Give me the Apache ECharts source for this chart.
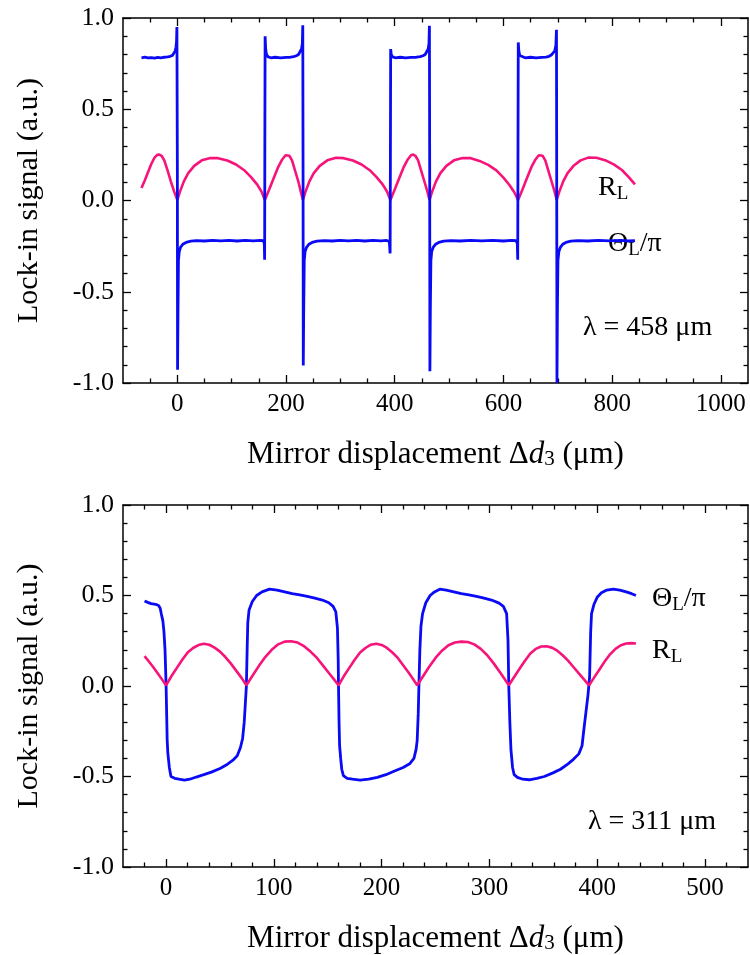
<!DOCTYPE html>
<html><head><meta charset="utf-8">
<script src="https://cdn.jsdelivr.net/npm/echarts@6/dist/echarts.min.js"></script>
<style>html,body{margin:0;padding:0;background:#fff}#c{width:750px;height:955px}</style>
</head><body><div id="c"></div>
<script>
// ---------- data ----------
// Top panel (lambda = 458 um)
var topXMajor = [0, 200, 400, 600, 800, 1000];
var topXMinor = [-50, 50, 100, 150, 250, 300, 350, 450, 500, 550, 650, 700, 750, 850, 900, 950];
var topR = [
[-66,0.068],[-60,0.11],[-54,0.155],[-48,0.2],[-42,0.235],[-37,0.25],[-33,0.252],[-29,0.245],[-24,0.22],[-18,0.165],[-12,0.105],[-6,0.05],[0,0.003],
[5,0.05],[12,0.105],[20,0.15],[31,0.19],[45,0.22],[61,0.233],[75,0.232],[92,0.219],[108,0.197],[123,0.166],[136,0.127],[147,0.087],[155,0.048],[161,0.003],
[169,0.06],[177,0.12],[185,0.18],[193,0.225],[199,0.248],[202,0.252],[206,0.245],[211,0.22],[217,0.16],[223,0.1],[227,0.05],[231,0.003],
[236,0.05],[243,0.105],[251,0.15],[262,0.19],[276,0.22],[292,0.234],[306,0.232],[323,0.219],[339,0.197],[354,0.166],[367,0.127],[378,0.087],[386,0.048],[392,0.003],
[400,0.06],[408,0.12],[416,0.18],[424,0.225],[430,0.248],[434,0.252],[438,0.245],[443,0.22],[449,0.16],[455,0.1],[460,0.05],[464,0.003],
[469,0.05],[476,0.105],[484,0.15],[495,0.19],[509,0.22],[525,0.233],[540,0.232],[556,0.217],[572,0.195],[587,0.165],[600,0.125],[611,0.085],[620,0.045],[627,0.003],
[635,0.06],[643,0.12],[651,0.18],[659,0.225],[665,0.248],[668,0.252],[672,0.245],[677,0.22],[683,0.16],[689,0.1],[694,0.05],[698,0.003],
[703,0.05],[710,0.105],[718,0.15],[729,0.19],[742,0.22],[756,0.235],[771,0.234],[787,0.221],[803,0.198],[818,0.167],[831,0.127],[842,0.088]
];
var topTheta = [
[-66,0.782],[-60,0.785],[-54,0.781],[-48,0.783],[-42,0.780],[-36,0.784],[-30,0.782],[-24,0.785],[-18,0.787],[-13,0.79],[-9,0.795],[-6,0.805],[-4,0.82],[-2.5,0.84],[-1.5,0.87],[-0.8,0.95],
[0,0.2],[0.4,-0.927],[1.2,-0.6],[2,-0.33],[3.5,-0.28],[6,-0.255],[10,-0.24],[16,-0.23],[25,-0.223],[35,-0.22],[50,-0.222],[65,-0.218],[80,-0.221],[95,-0.219],[110,-0.222],[125,-0.218],[140,-0.221],[152,-0.219],[158,-0.22],[160,-0.235],[160.6,-0.325],[161,0.3],[161.5,0.90],[162.5,0.83],[164,0.8],[167,0.787],[172,0.782],[180,0.785],[190,0.781],[200,0.784],[208,0.785],[214,0.788],[219,0.793],[223,0.80],[226,0.81],[228.5,0.83],[230,0.86],[230.8,0.96],
[231.3,0.2],[231.7,-0.904],[232.5,-0.6],[233.5,-0.33],[235,-0.28],[238,-0.255],[242,-0.24],[248,-0.23],[257,-0.223],[270,-0.22],[285,-0.222],[300,-0.218],[315,-0.221],[330,-0.219],[345,-0.222],[360,-0.218],[375,-0.221],[385,-0.219],[390,-0.225],[391.5,-0.29],[392,0.2],[392.5,0.83],[393.5,0.8],[396,0.787],[401,0.782],[410,0.785],[420,0.781],[430,0.784],[440,0.785],[447,0.788],[452,0.793],[456,0.80],[459,0.81],[461.5,0.83],[463,0.86],[463.8,0.958],
[464.3,0.2],[464.7,-0.936],[465.5,-0.6],[466.5,-0.33],[468,-0.28],[471,-0.255],[475,-0.24],[481,-0.23],[490,-0.223],[503,-0.22],[520,-0.222],[540,-0.218],[560,-0.221],[580,-0.219],[600,-0.222],[615,-0.219],[623,-0.22],[625.5,-0.235],[626.3,-0.325],[626.8,0.3],[627.3,0.866],[628.3,0.82],[630,0.795],[633,0.785],[640,0.782],[650,0.785],[660,0.781],[670,0.784],[678,0.786],[684,0.79],[688,0.797],[691.5,0.807],[694.5,0.82],[696.5,0.85],[697.6,0.936],
[698,0.2],[698.5,-1.0],[699.3,-0.6],[700.3,-0.33],[702,-0.28],[705,-0.255],[709,-0.24],[715,-0.23],[724,-0.223],[737,-0.22],[755,-0.222],[775,-0.218],[795,-0.221],[815,-0.219],[830,-0.222],[842,-0.22]
];
// Bottom panel (lambda = 311 um)
var botXMajor = [0, 100, 200, 300, 400, 500];
var botXMinor = [-20, 20, 40, 60, 80, 120, 140, 160, 180, 220, 240, 260, 280, 320, 340, 360, 380, 420, 440, 460, 480, 520];
var botR = [
[-20,0.165],[-16,0.135],[-12,0.105],[-8,0.072],[-4,0.038],[0,0.004],
[5,0.055],[10,0.1],[15,0.145],[20,0.185],[25,0.21],[30,0.226],[35,0.233],[40,0.228],[45,0.212],[50,0.19],[55,0.16],[60,0.125],[65,0.085],[70,0.045],[74.5,0.004],
[80,0.055],[86,0.11],[92,0.16],[98,0.2],[104,0.23],[110,0.245],[116,0.247],[122,0.24],[128,0.22],[134,0.19],[140,0.155],[146,0.11],[152,0.065],[156,0.035],[160,0.004],
[165,0.055],[170,0.1],[175,0.145],[180,0.185],[185,0.21],[190,0.228],[195,0.233],[200,0.227],[205,0.21],[210,0.185],[215,0.155],[220,0.115],[225,0.075],[229,0.04],[233,0.004],
[238,0.05],[244,0.105],[250,0.155],[256,0.195],[262,0.225],[268,0.24],[274,0.245],[280,0.243],[286,0.23],[292,0.205],[298,0.17],[304,0.125],[310,0.075],[314,0.04],[318,0.004],
[323,0.05],[328,0.095],[333,0.14],[338,0.18],[343,0.205],[348,0.218],[353,0.22],[358,0.212],[363,0.195],[368,0.17],[373,0.14],[378,0.105],[383,0.07],[388,0.035],[392.5,0.004],
[397,0.045],[402,0.09],[407,0.135],[412,0.175],[417,0.205],[422,0.225],[427,0.235],[432,0.237],[436,0.235]
];
var botTheta = [
[-20,0.47],[-17,0.462],[-14,0.455],[-11,0.452],[-9,0.45],[-7,0.445],[-5.5,0.43],[-4.5,0.40],[-3,0.36],[-2,0.30],[-1,0.2],[0,0.0],[0.5,-0.15],[1,-0.3],[1.6,-0.37],[3,-0.45],[4.5,-0.5],[8,-0.51],[12,-0.515],[17,-0.52],[22,-0.515],[28,-0.503],[35,-0.49],[42,-0.476],[50,-0.456],[57,-0.432],[62,-0.41],[66,-0.385],[69,-0.34],[71,-0.29],[72.5,-0.2],[73.5,-0.1],[74.5,0.0],[75.2,0.2],[75.8,0.35],[77,0.42],[80,0.467],[84,0.5],[89,0.52],[96,0.535],[103,0.53],[110,0.52],[117,0.51],[124,0.503],[131,0.495],[138,0.485],[145,0.475],[151,0.46],[155,0.44],[157.5,0.41],[159,0.32],[159.7,0.15],[160,0.0],[160.5,-0.2],[161,-0.33],[162,-0.4],[163,-0.46],[164.5,-0.495],[168,-0.51],[173,-0.515],[180,-0.52],[188,-0.515],[196,-0.505],[204,-0.49],[212,-0.47],[220,-0.45],[226,-0.43],[230,-0.4],[232,-0.35],[233,-0.3],[234,-0.15],[234.6,0.0],[235.5,0.2],[236.5,0.33],[238,0.4],[241,0.46],[245,0.5],[249,0.52],[254,0.535],[260,0.53],[267,0.52],[274,0.51],[281,0.503],[288,0.495],[295,0.485],[302,0.475],[309,0.458],[313,0.44],[316,0.4],[317.3,0.25],[318,0.0],[319,-0.2],[320,-0.35],[321.5,-0.45],[323,-0.49],[326,-0.505],[331,-0.515],[337,-0.518],[344,-0.51],[351,-0.5],[359,-0.48],[366,-0.46],[373,-0.43],[378,-0.405],[383,-0.375],[386,-0.33],[387.5,-0.25],[389.5,-0.15],[391.5,-0.05],[393,0.05],[394,0.3],[394.8,0.4],[397,0.45],[400,0.49],[404,0.515],[409,0.53],[415,0.535],[421,0.53],[427,0.52],[432,0.51],[436,0.5]
];
var yTicks = [-1, 1, 0.5];   // min, max, interval

// ---------- styling ----------
var FONT = '"Liberation Serif","Times New Roman",serif';
var BLUE = '#0a0af5', PINK = '#f7147a';
var axisLineStyle = {show: true, onZero: false, lineStyle: {color: '#000', width: 1.5}};
var noLine = {show: false, onZero: false};

function xAxes(gi, min, max, major, minor) {
  var nameRich = {
    i: {fontFamily: FONT, fontSize: 31, fontStyle: 'italic', color: '#000'},
    s: {fontFamily: FONT, fontSize: 21, color: '#000', verticalAlign: 'bottom', lineHeight: 16}
  };
  return [
    {type: 'value', gridIndex: gi, position: 'bottom', min: min, max: max,
     axisLine: axisLineStyle, splitLine: {show: false},
     axisTick: {show: true, inside: true, length: 8, customValues: major, lineStyle: {color: '#000', width: 1.3}},
     axisLabel: {show: true, customValues: major, fontFamily: FONT, fontSize: 25, color: '#000', margin: 9,
       formatter: function (v) { return String(v); }},
     name: 'Mirror displacement Δ{i|d}{s|3} (μm)', nameLocation: 'middle', nameGap: 56,
     nameTextStyle: {fontFamily: FONT, fontSize: 31, color: '#000', rich: nameRich}},
    {type: 'value', gridIndex: gi, position: 'bottom', min: min, max: max,
     axisLine: noLine, splitLine: {show: false},
     axisTick: {show: true, inside: true, length: 4.5, customValues: minor, lineStyle: {color: '#000', width: 1.3}},
     axisLabel: {show: false}},
    {type: 'value', gridIndex: gi, position: 'top', min: min, max: max,
     axisLine: axisLineStyle, splitLine: {show: false},
     axisTick: {show: true, inside: true, length: 8, customValues: major, lineStyle: {color: '#000', width: 1.3}},
     axisLabel: {show: false}},
    {type: 'value', gridIndex: gi, position: 'top', min: min, max: max,
     axisLine: noLine, splitLine: {show: false},
     axisTick: {show: true, inside: true, length: 4.5, customValues: minor, lineStyle: {color: '#000', width: 1.3}},
     axisLabel: {show: false}}
  ];
}
function yAxes(gi) {
  var base = {type: 'value', gridIndex: gi, min: yTicks[0], max: yTicks[1], interval: yTicks[2],
    axisLine: axisLineStyle, splitLine: {show: false},
    axisTick: {show: true, inside: true, length: 8, lineStyle: {color: '#000', width: 1.3}},
    minorTick: {show: true, splitNumber: 5, length: 4.5, lineStyle: {color: '#000', width: 1.3}},
    minorSplitLine: {show: false}};
  return [
    Object.assign({}, base, {position: 'left',
      axisLabel: {show: true, fontFamily: FONT, fontSize: 26, color: '#000', margin: 9,
        formatter: function (v) { return v.toFixed(1); }},
      name: 'Lock-in signal (a.u.)', nameLocation: 'middle', nameGap: 79,
      nameTextStyle: {fontFamily: FONT, fontSize: 30, color: '#000'}}),
    Object.assign({}, base, {position: 'right', axisLabel: {show: false}})
  ];
}

var rich = {
  m: {fontFamily: FONT, fontSize: 28, color: '#000', lineHeight: 32},
  s: {fontFamily: FONT, fontSize: 19, color: '#000', lineHeight: 14, verticalAlign: 'bottom'}
};
function txt(x, y, t) {
  return {type: 'text', x: x, y: y, style: {text: t, rich: rich, verticalAlign: 'middle', align: 'left',
    fontFamily: FONT, fontSize: 28, fill: '#000'}};
}

var chart = echarts.init(document.getElementById('c'), null, {renderer: 'canvas'});
chart.setOption({
  backgroundColor: '#fff',
  animation: false,
  grid: [
    {left: 123, top: 18, width: 625, height: 365},
    {left: 123, top: 505, width: 625, height: 364}
  ],
  xAxis: xAxes(0, -100, 1050, topXMajor, topXMinor).concat(xAxes(1, -40, 540, botXMajor, botXMinor)),
  yAxis: yAxes(0).concat(yAxes(1)),
  series: [
    {type: 'line', name: 'R_L top', xAxisIndex: 0, yAxisIndex: 0, data: topR, showSymbol: false,
     lineStyle: {color: PINK, width: 2.6}, z: 2},
    {type: 'line', name: 'Theta top', xAxisIndex: 0, yAxisIndex: 0, data: topTheta, showSymbol: false,
     lineStyle: {color: BLUE, width: 2.8}, z: 3},
    {type: 'line', name: 'Theta bottom', xAxisIndex: 4, yAxisIndex: 2, data: botTheta, showSymbol: false,
     lineStyle: {color: BLUE, width: 2.8}, z: 2},
    {type: 'line', name: 'R_L bottom', xAxisIndex: 4, yAxisIndex: 2, data: botR, showSymbol: false,
     lineStyle: {color: PINK, width: 2.6}, z: 3}
  ],
  graphic: [
    txt(598, 188, '{m|R}{s|L}'),
    txt(608, 244, '{m|Θ}{s|L}{m|/π}'),
    txt(583, 328, '{m|λ = 458 μm}'),
    txt(652, 599, '{m|Θ}{s|L}{m|/π}'),
    txt(652, 651, '{m|R}{s|L}'),
    txt(588, 822, '{m|λ = 311 μm}')
  ]
});
</script></body></html>
